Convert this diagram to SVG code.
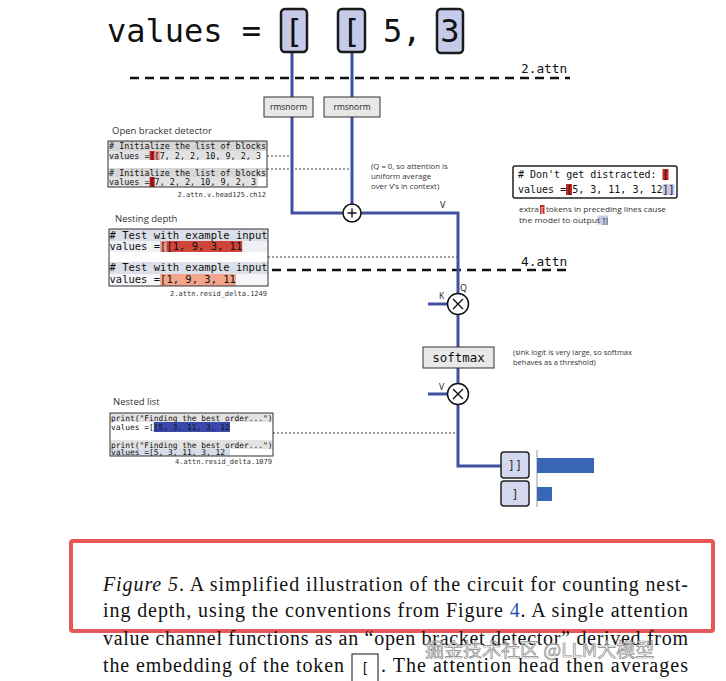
<svg xmlns="http://www.w3.org/2000/svg" width="726" height="681" viewBox="0 0 726 681">
<style>
.mono{font-family:"DejaVu Sans Mono","Liberation Mono",monospace;fill:#111}
.sans{font-family:"Open Sans","Noto Sans","Liberation Sans",sans-serif;fill:#333}
.serif{font-family:"Liberation Serif","Times New Roman",serif;fill:#111;font-size:20px}
.wire{fill:none;stroke:#3f51a0;stroke-width:3}
.dash{fill:none;stroke:#111;stroke-width:2.5;stroke-dasharray:9 6}
.dot{fill:none;stroke:#444;stroke-width:1;stroke-dasharray:2 2}
.tok{fill:#c5cae9;stroke:#1a1a1a;stroke-width:2.5}
.op{fill:#fff;stroke:#111;stroke-width:1.5}
.opline{stroke:#111;stroke-width:1.4}
.gbox{fill:#e8e8e8;stroke:#333;stroke-width:1}
.panel{fill:none;stroke:#333;stroke-width:1}
.outtok{fill:#d4d8ee;stroke:#222;stroke-width:1.5}
</style>
<rect width="726" height="681" fill="#fff"/>

<!-- connectors -->
<g id="connectors">
  <path class="dash" d="M130 78 H570"/>
  <path class="dash" d="M272 270 H568"/>
  <path class="dot" d="M267 156 H291"/>
  <path class="dot" d="M267 169 H351"/>
  <path class="dot" d="M268 257 H457"/>
  <path class="dot" d="M273 433 H457"/>
  <path class="wire" d="M292 52 V213 H343"/>
  <path class="wire" d="M352 52 V204"/>
  <path class="wire" d="M361 213 H458 V293.5"/>
  <path class="wire" d="M458 314.5 V347"/>
  <path class="wire" d="M458 368 V383.5"/>
  <path class="wire" d="M458 404.5 V466 H501"/>
  <path class="wire" d="M428 304 H447.5"/>
  <path class="wire" d="M428 394 H447.5"/>
</g>

<!-- top tokens -->
<g id="top-text">
  <text class="mono" x="107" y="42" font-size="32">values =</text>
</g>
<g id="tok1">
  <rect class="tok" x="281" y="9" width="26" height="43" rx="4"/>
  <text class="mono" x="294" y="42" font-size="32" text-anchor="middle">[</text>
</g>
<g id="tok2">
  <rect class="tok" x="338" y="9" width="27" height="43" rx="4"/>
  <text class="mono" x="351.5" y="42" font-size="32" text-anchor="middle">[</text>
</g>
<g id="tok-5">
  <text class="mono" x="383" y="42" font-size="32">5,</text>
</g>
<g id="tok3">
  <rect class="tok" x="437" y="9" width="26" height="44" rx="4"/>
  <text class="mono" x="450" y="42" font-size="32" text-anchor="middle">3</text>
</g>

<g id="layer-labels">
  <text class="mono" x="521" y="73" font-size="12.8">2.attn</text>
  <text class="mono" x="521" y="266" font-size="12.8">4.attn</text>
</g>

<g id="rmsnorm1">
  <rect class="gbox" x="264" y="97" width="49" height="20"/>
  <text class="sans" x="288.5" y="110" font-size="8.5" text-anchor="middle" style="fill:#222">rmsnorm</text>
</g>
<g id="rmsnorm2">
  <rect class="gbox" x="324" y="97" width="56" height="20"/>
  <text class="sans" x="352" y="110" font-size="8.5" text-anchor="middle" style="fill:#222">rmsnorm</text>
</g>

<!-- Panel 1 -->
<g id="panel-open-bracket">
  <text class="sans" x="112" y="134" font-size="9.5">Open bracket detector</text>
  <rect x="108" y="141" width="159" height="10" fill="#d6d6d6"/>
  <rect x="108" y="151" width="150" height="9" fill="#e2e2e2"/>
  <rect x="108" y="168" width="159" height="9" fill="#d6d6d6"/>
  <rect x="108" y="177" width="150" height="10" fill="#e2e2e2"/>
  <rect x="149.6" y="151" width="5.1" height="9" fill="#c62828"/>
  <rect x="154.7" y="151" width="5.1" height="9" fill="#e8a0a0"/>
  <rect x="149.6" y="177" width="5.1" height="10" fill="#b71c1c"/>
  <text class="mono" x="109" y="149" font-size="8.5" textLength="157" lengthAdjust="spacingAndGlyphs"># Initialize the list of blocks</text>
  <text class="mono" x="109" y="158.5" font-size="8.5" textLength="152" lengthAdjust="spacingAndGlyphs">values =[[7, 2, 2, 10, 9, 2, 3</text>
  <text class="mono" x="109" y="175.5" font-size="8.5" textLength="157" lengthAdjust="spacingAndGlyphs"># Initialize the list of blocks</text>
  <text class="mono" x="109" y="185" font-size="8.5" textLength="147" lengthAdjust="spacingAndGlyphs">values =[7, 2, 2, 10, 9, 2, 3</text>
  <rect class="panel" x="108" y="141" width="159" height="46"/>
  <text class="mono" x="266" y="197" font-size="7" text-anchor="end" style="fill:#333">2.attn.v.head125.ch12</text>
</g>

<!-- Panel 2 -->
<g id="panel-nesting">
  <text class="sans" x="115" y="222" font-size="9.5">Nesting depth</text>
  <rect x="109" y="229" width="159" height="12" fill="#dcdfe8"/>
  <rect x="109" y="241" width="159" height="11" fill="#eef0f4"/>
  <rect x="109" y="262" width="159" height="12" fill="#dcdfe8"/>
  <rect x="109" y="274" width="159" height="12" fill="#f6f6f8"/>
  <rect x="160.1" y="241" width="6.3" height="11" fill="#e8998a"/>
  <rect x="166.4" y="241" width="75.8" height="11" fill="#d0453a"/>
  <rect x="160.1" y="274" width="75.8" height="12" fill="#f2a58a"/>
  <text class="mono" x="109.5" y="238.5" font-size="10.5"># Test with example input</text>
  <text class="mono" x="109.5" y="249.5" font-size="10.5">values =[[1, 9, 3, 11</text>
  <text class="mono" x="109.5" y="271" font-size="10.5"># Test with example input</text>
  <text class="mono" x="109.5" y="283" font-size="10.5">values =[1, 9, 3, 11</text>
  <rect class="panel" x="109" y="229" width="159" height="57"/>
  <text class="mono" x="267" y="296" font-size="7" text-anchor="end" style="fill:#333">2.attn.resid_delta.1249</text>
</g>

<!-- Panel 3 -->
<g id="panel-nested-list">
  <text class="sans" x="113" y="405" font-size="9.5">Nested list</text>
  <rect x="110" y="413" width="163" height="9" fill="#e2e2e2"/>
  <rect x="110" y="440" width="163" height="9" fill="#e2e2e2"/>
  <rect x="110" y="449" width="120" height="7" fill="#d8dce8"/>
  <rect x="153.8" y="422" width="76.2" height="10" fill="#3949ab"/>
  <text class="mono" x="111" y="420.5" font-size="7.9">print("Finding the best order...")</text>
  <text class="mono" x="111" y="430" font-size="7.9">values =[[5, 3, 11, 3, 12</text>
  <text class="mono" x="111" y="447.5" font-size="7.9">print("Finding the best order...")</text>
  <text class="mono" x="111" y="455" font-size="7.9">values =[5, 3, 11, 3, 12</text>
  <rect class="panel" x="110" y="413" width="163" height="43"/>
  <text class="mono" x="272" y="464" font-size="7" text-anchor="end" style="fill:#333">4.attn.resid_delta.1079</text>
</g>

<g id="note-q">
  <text class="sans" font-size="7.8"><tspan x="371" y="169">(Q = 0, so attention is</tspan><tspan x="371" y="179">uniform average</tspan><tspan x="371" y="189">over V’s in context)</tspan></text>
</g>

<g id="plus">
  <circle class="op" cx="352" cy="213" r="9"/>
  <path class="opline" d="M347.5 213 H356.5 M352 208.5 V217.5"/>
</g>
<g id="wire-labels">
  <text class="sans" x="440" y="208" font-size="9" style="fill:#111">V</text>
  <text class="sans" x="460" y="291" font-size="9" style="fill:#111">Q</text>
  <text class="sans" x="439" y="299" font-size="8.5" style="fill:#111">K</text>
  <text class="sans" x="439" y="390" font-size="8.5" style="fill:#111">V</text>
</g>

<g id="mult-qk">
  <circle class="op" cx="458" cy="304" r="10.5"/>
  <path class="opline" d="M453 299 L463 309 M463 299 L453 309"/>
</g>
<g id="softmax">
  <rect class="gbox" x="423" y="347" width="71" height="21"/>
  <text class="mono" x="458.5" y="362" font-size="12.5" text-anchor="middle">softmax</text>
</g>
<g id="note-sink">
  <text class="sans" font-size="7.5"><tspan x="513" y="355">(sink logit is very large, so softmax</tspan><tspan x="513" y="365">behaves as a threshold)</tspan></text>
</g>
<g id="mult-v">
  <circle class="op" cx="458" cy="394" r="10.5"/>
  <path class="opline" d="M453 389 L463 399 M463 389 L453 399"/>
</g>

<g id="out-double">
  <rect class="outtok" x="501" y="452" width="28" height="26" rx="3"/>
  <text class="mono" x="515" y="470" font-size="12" text-anchor="middle" style="fill:#333">]]</text>
</g>
<g id="out-single">
  <rect class="outtok" x="501" y="481" width="28" height="25" rx="3"/>
  <text class="mono" x="515" y="499" font-size="12" text-anchor="middle" style="fill:#333">]</text>
</g>
<g id="bars">
  <path d="M537 450 V507" stroke="#999" stroke-width="1"/>
  <rect x="537" y="458" width="57" height="15" fill="#3a66b8"/>
  <rect x="537" y="487" width="15" height="14" fill="#3a66b8"/>
</g>

<g id="distract-box">
  <rect x="513" y="166" width="164" height="32" rx="2" fill="#fff" stroke="#222" stroke-width="1.5"/>
  <rect x="662.5" y="169" width="6" height="11" fill="#c62828"/>
  <rect x="566" y="184" width="6" height="11" fill="#c62828"/>
  <rect x="662.5" y="184" width="12" height="11" fill="#c5cae9"/>
  <text class="mono" x="518" y="178" font-size="10"># Don't get distracted: [</text>
  <text class="mono" x="518" y="193" font-size="10">values =[5, 3, 11, 3, 12]]</text>
  <rect x="540" y="205" width="4.5" height="9" fill="#c62828"/>
  <rect x="597.5" y="215.5" width="10.5" height="9" fill="#c5cae9"/>
  <text class="sans" font-size="7.8" x="519" y="212" textLength="147" lengthAdjust="spacingAndGlyphs">extra <tspan style="fill:#fff">[</tspan> tokens in preceding lines cause</text>
  <text class="sans" font-size="7.8" x="519" y="223" textLength="89" lengthAdjust="spacingAndGlyphs">the model to output ]]</text>
</g>

<!-- caption -->
<g id="caption">
  <rect x="71" y="541" width="642" height="90" fill="none" stroke="#e85858" stroke-width="4" rx="2"/>
  <text class="serif" x="103" y="591" textLength="585" lengthAdjust="spacing"><tspan font-style="italic">Figure 5</tspan>. A simplified illustration of the circuit for counting nest-</text>
  <text class="serif" x="103" y="617" textLength="585" lengthAdjust="spacing">ing depth, using the conventions from Figure <tspan style="fill:#2b4fb0">4</tspan>. A single attention</text>
  <text class="serif" x="103" y="645" textLength="585" lengthAdjust="spacing">value channel functions as an “open bracket detector” derived from</text>
  <text class="serif" x="103" y="672" textLength="241" lengthAdjust="spacing">the embedding of the token</text>
  <rect x="352" y="654" width="26" height="30" fill="none" stroke="#111" stroke-width="1"/>
  <text class="mono" x="365" y="673" font-size="14" text-anchor="middle">[</text>
  <text class="serif" x="381" y="672" textLength="307" lengthAdjust="spacing">. The attention head then averages</text>
  <text x="425" y="657" font-size="19" font-family="'Noto Sans CJK SC',sans-serif" fill="#fff" fill-opacity="0.7" stroke="#8a8a8a" stroke-width="0.7">掘金技术社区 @LLM大模型</text>
</g>
</svg>
